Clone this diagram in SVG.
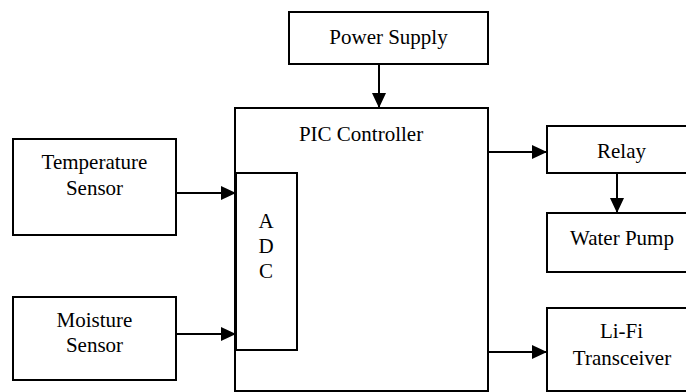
<svg xmlns="http://www.w3.org/2000/svg" width="686" height="392" viewBox="0 0 686 392">
  <defs>
    <style>
      .box { fill: #ffffff; stroke: #000000; stroke-width: 2; }
      .lbl { font-family: "Liberation Serif", "Times New Roman", "DejaVu Serif", serif; font-size: 21px; fill: #000000; text-anchor: middle; }
      .conn { stroke: #000000; stroke-width: 2; fill: none; marker-end: url(#arrow); }
    </style>
    <marker id="arrow" markerUnits="userSpaceOnUse" markerWidth="15" markerHeight="14" refX="15" refY="7" orient="auto">
      <path d="M0,0 L15,7 L0,14 Z" fill="#000000"/>
    </marker>
  </defs>
  <rect width="686" height="392" fill="#ffffff"/>

  <g id="power-supply">
    <rect class="box" x="289" y="12" width="199" height="52"/>
    <text class="lbl" x="388.5" y="44">Power Supply</text>
  </g>
  <g id="pic-controller">
    <rect class="box" x="235" y="108" width="253" height="283"/>
    <text class="lbl" x="361" y="141">PIC Controller</text>
  </g>
  <g id="adc">
    <rect class="box" x="236" y="173" width="61" height="177"/>
    <text class="lbl" x="266" y="228">A</text>
    <text class="lbl" x="266" y="253">D</text>
    <text class="lbl" x="266" y="278">C</text>
  </g>
  <g id="temperature-sensor">
    <rect class="box" x="13" y="139" width="163" height="96"/>
    <text class="lbl" x="94.5" y="169">Temperature</text>
    <text class="lbl" x="94.5" y="195">Sensor</text>
  </g>
  <g id="moisture-sensor">
    <rect class="box" x="13" y="297" width="163" height="83"/>
    <text class="lbl" x="94.5" y="327">Moisture</text>
    <text class="lbl" x="94.5" y="352">Sensor</text>
  </g>
  <g id="relay">
    <rect class="box" x="547" y="126" width="145" height="47"/>
    <text class="lbl" x="621.5" y="158">Relay</text>
  </g>
  <g id="water-pump">
    <rect class="box" x="547" y="213" width="145" height="59"/>
    <text class="lbl" x="622" y="245">Water Pump</text>
  </g>
  <g id="lifi-transceiver">
    <rect class="box" x="547" y="308" width="145" height="83"/>
    <text class="lbl" x="621.5" y="338">Li-Fi</text>
    <text class="lbl" x="622" y="365">Transceiver</text>
  </g>

  <g id="connectors">
    <line class="conn" x1="379" y1="64" x2="379" y2="108"/>
    <line class="conn" x1="176" y1="193" x2="236" y2="193"/>
    <line class="conn" x1="176" y1="334" x2="236" y2="334"/>
    <line class="conn" x1="488" y1="152" x2="547" y2="152"/>
    <line class="conn" x1="617" y1="173" x2="617" y2="213"/>
    <line class="conn" x1="488" y1="352" x2="547" y2="352"/>
  </g>
</svg>
